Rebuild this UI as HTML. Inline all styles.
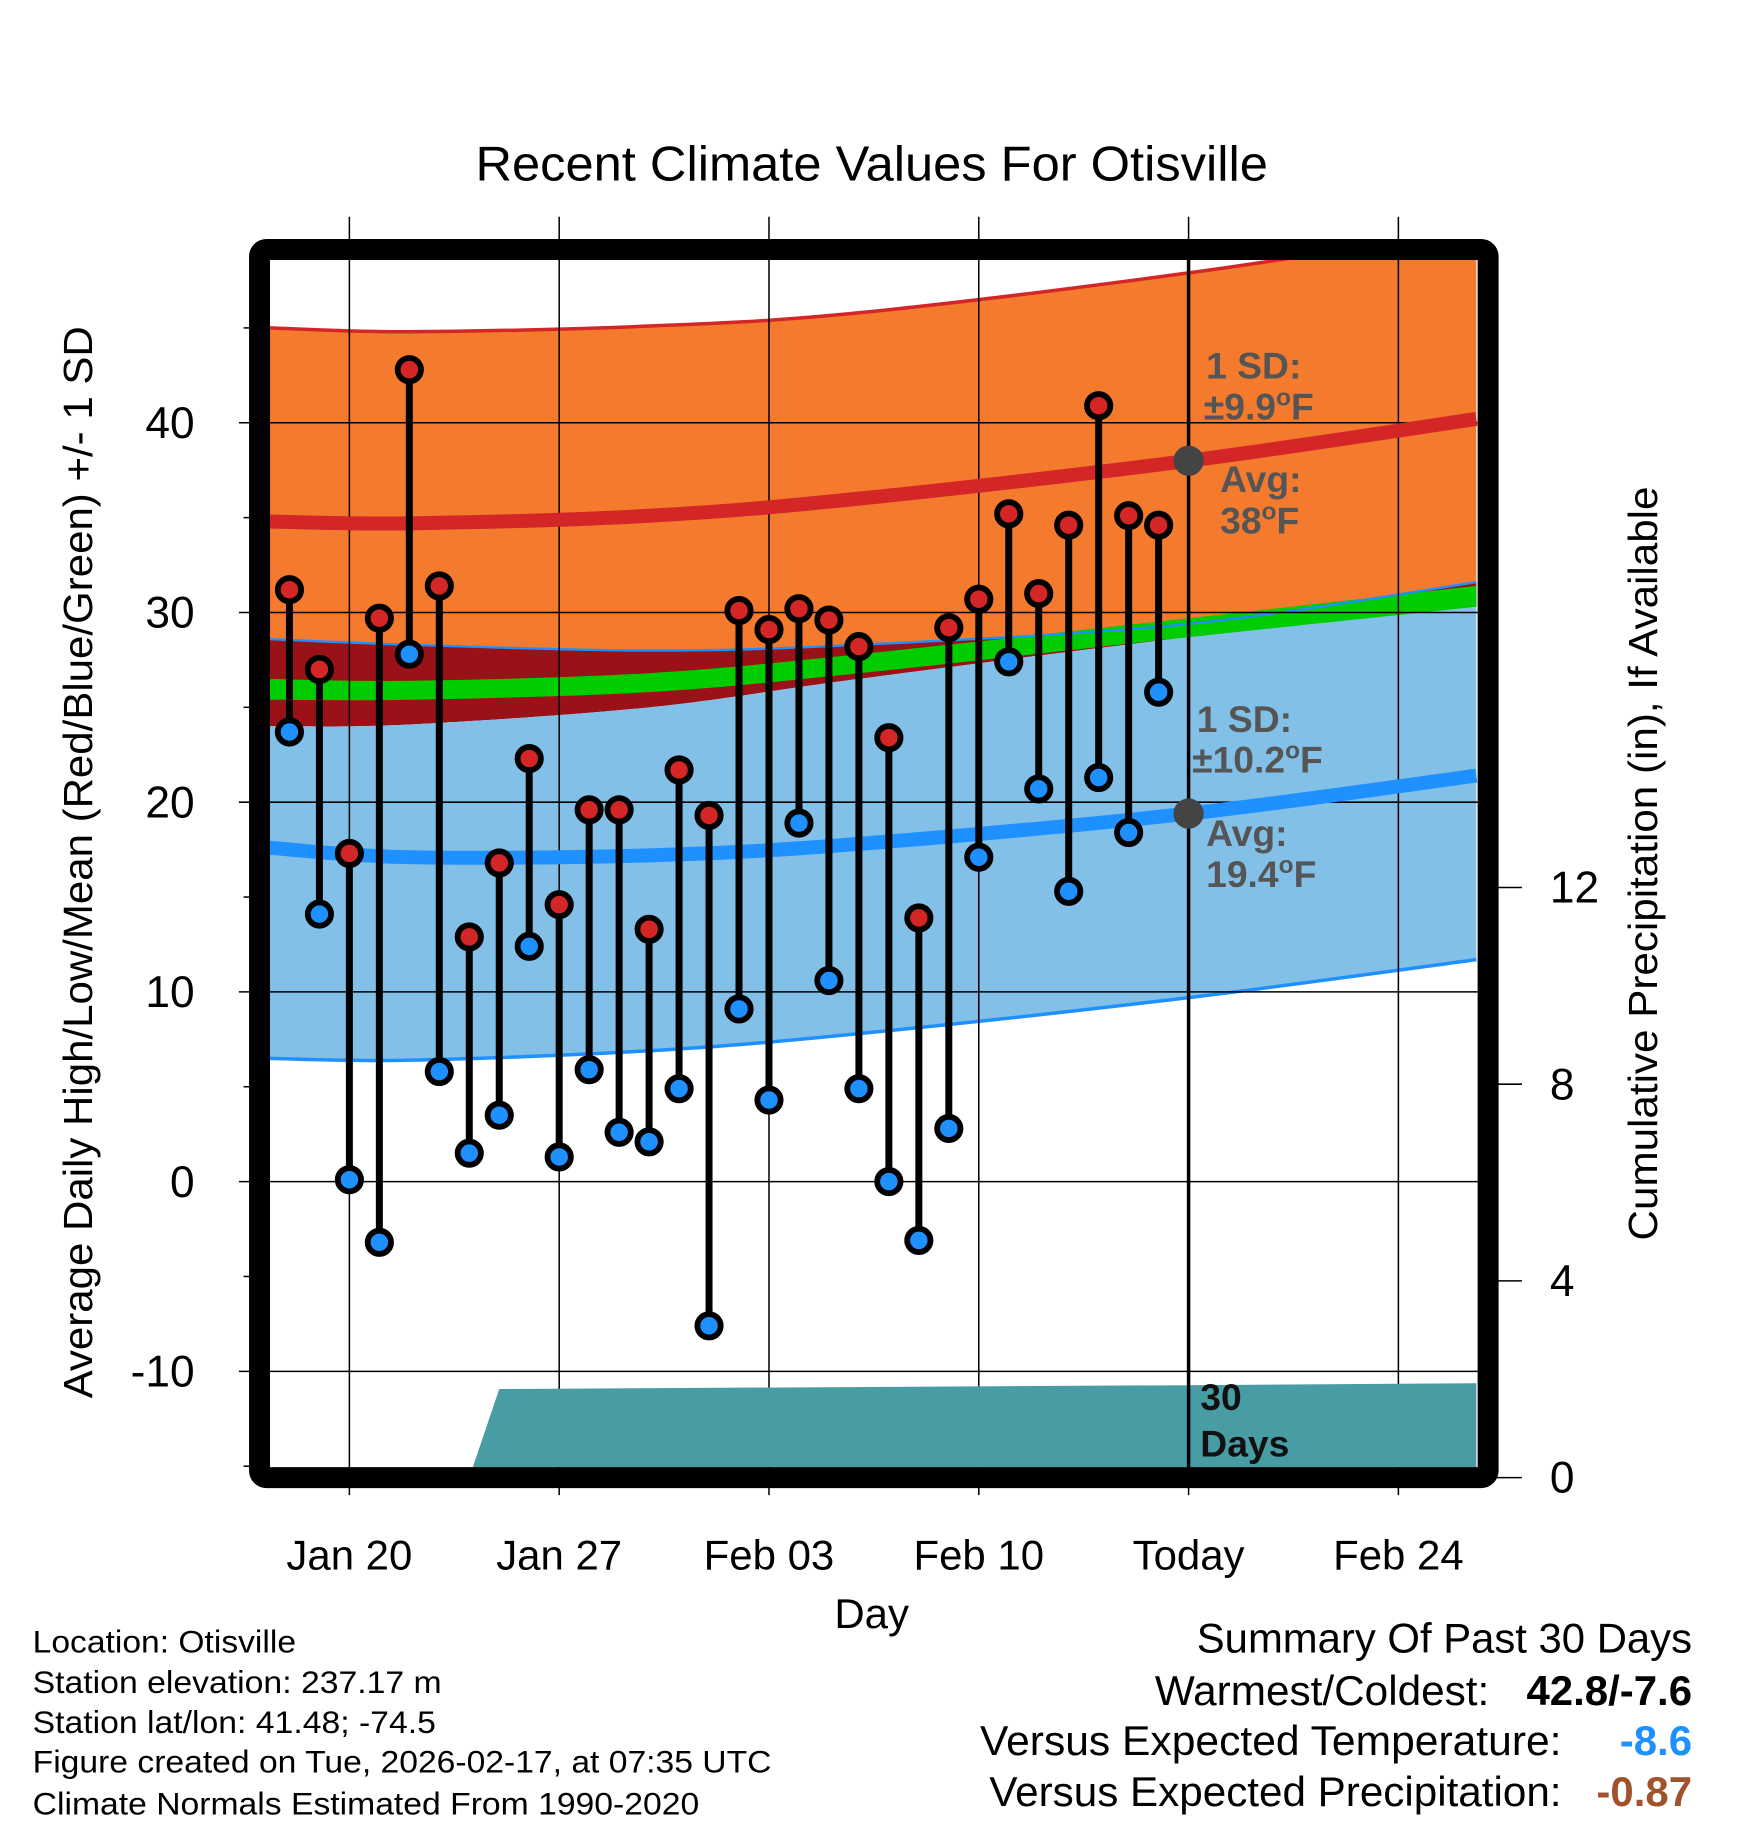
<!DOCTYPE html>
<html><head><meta charset="utf-8"><style>
html,body{margin:0;padding:0;background:#fff}
svg{display:block;font-family:"Liberation Sans",Arial,sans-serif}
</style></head><body>
<svg id="chart" width="1748" height="1828" viewBox="0 0 1500 1568.7" xmlns="http://www.w3.org/2000/svg">
<defs><clipPath id="plotclip"><rect x="231" y="223" width="1037" height="1036"/></clipPath></defs>
<text x="748" y="155" font-size="42" text-anchor="middle" textLength="680" lengthAdjust="spacingAndGlyphs">Recent Climate Values For Otisville</text>
<g id="fills" clip-path="url(#plotclip)"></g>
<g id="grid"></g>
<g id="lines" clip-path="url(#plotclip)"></g>
<g id="marks"></g>
<g id="annot" font-weight="bold" fill="#555" font-size="32">
<text x="1035" y="325">1 SD:</text>
<text x="1033" y="360">±9.9<tspan font-size="21" dy="-12">o</tspan><tspan dy="12">F</tspan></text>
<text x="1047" y="422">Avg:</text>
<text x="1047" y="458">38<tspan font-size="21" dy="-12">o</tspan><tspan dy="12">F</tspan></text>
<text x="1027" y="628">1 SD:</text>
<text x="1023" y="663">±10.2<tspan font-size="21" dy="-12">o</tspan><tspan dy="12">F</tspan></text>
<text x="1035" y="726">Avg:</text>
<text x="1035" y="761">19.4<tspan font-size="21" dy="-12">o</tspan><tspan dy="12">F</tspan></text>
<text x="1030" y="1210" fill="#111">30</text>
<text x="1030" y="1250" fill="#111">Days</text>
</g>
<rect x="222.7" y="214.1" width="1054.3" height="1053.9" rx="6" fill="none" stroke="#000" stroke-width="18"/>
<text x="748" y="1397" font-size="36" text-anchor="middle">Day</text>
<text transform="translate(79,740) rotate(-90)" font-size="35" text-anchor="middle" textLength="920" lengthAdjust="spacingAndGlyphs">Average Daily High/Low/Mean (Red/Blue/Green) +/- 1 SD</text>
<text transform="translate(1422,741) rotate(-90)" font-size="35" text-anchor="middle" textLength="647" lengthAdjust="spacingAndGlyphs">Cumulative Precipitation (in), If Available</text>
<g font-size="27">
<text x="28" y="1418" textLength="226" lengthAdjust="spacingAndGlyphs">Location: Otisville</text>
<text x="28" y="1453" textLength="351" lengthAdjust="spacingAndGlyphs">Station elevation: 237.17 m</text>
<text x="28" y="1487" textLength="346" lengthAdjust="spacingAndGlyphs">Station lat/lon: 41.48; -74.5</text>
<text x="28" y="1521" textLength="634" lengthAdjust="spacingAndGlyphs">Figure created on Tue, 2026-02-17, at 07:35 UTC</text>
<text x="28" y="1557" textLength="572" lengthAdjust="spacingAndGlyphs">Climate Normals Estimated From 1990-2020</text>
</g>
<g font-size="36" text-anchor="end">
<text x="1452" y="1418" textLength="425" lengthAdjust="spacingAndGlyphs">Summary Of Past 30 Days</text>
<text x="1278" y="1463" textLength="287" lengthAdjust="spacingAndGlyphs">Warmest/Coldest:</text>
<text x="1452" y="1463" font-weight="bold">42.8/-7.6</text>
<text x="1340" y="1506" textLength="499" lengthAdjust="spacingAndGlyphs">Versus Expected Temperature:</text>
<text x="1452" y="1506" font-weight="bold" fill="#1e90ff">-8.6</text>
<text x="1340" y="1550" textLength="491" lengthAdjust="spacingAndGlyphs">Versus Expected Precipitation:</text>
<text x="1452" y="1550" font-weight="bold" fill="#a0522d">-0.87</text>
</g>
</svg>
<script>
// data
const days = [-2,-1,0,1,2,3,4,5,6,7,8,9,10,11,12,13,14,15,16,17,18,19,20,21,22,23,24,25,26,27];
const highs = [31.2,27.0,17.3,29.7,42.8,31.4,12.9,16.8,22.3,14.6,19.6,19.6,13.3,21.7,19.3,30.1,29.1,30.2,29.6,28.2,23.4,13.9,29.2,30.7,35.2,31.0,34.6,40.9,35.1,34.6];
const lows = [23.7,14.1,0.1,-3.2,27.8,5.8,1.5,3.5,12.4,1.3,5.9,2.6,2.1,4.9,-7.6,9.1,4.3,18.9,10.6,4.9,0.0,-3.1,2.8,17.1,27.4,20.7,15.3,21.3,18.4,25.8];
const normalDays = [-2.7,2,10,17,28,37.6];
const upperSD = [45.0,44.8,45.1,45.8,47.9,50.2];
const highAvg = [34.8,34.7,35.1,36.0,38.0,40.2];
const orangeLow = [28.6,28.3,28.0,28.3,29.4,31.6];
const greenTop = [26.5,26.4,26.8,27.8,29.7,31.4];
const greenBot = [25.4,25.4,25.8,26.8,28.7,30.3];
const blueTop = [24.0,24.1,25.0,26.5,28.7,30.3];
const lowAvg = [17.6,17.1,17.2,17.8,19.4,21.4];
const blueBot = [6.5,6.4,6.9,7.8,9.7,11.7];
const precipDays = [4,5,28,37.6];
const precipVals = [0,1.8,1.88,1.92];
const yTicks = [-10,0,10,20,30,40];
const y2Ticks = [0,4,8,12];
const xTickDays = [0,7,14,21,28,35];
const xTickLabels = ["Jan 20","Jan 27","Feb 03","Feb 10","Today","Feb 24"];

const NS="http://www.w3.org/2000/svg";
const x = d => 299.8 + d*25.72;
const y = v => 1014 - v*16.28;
const y2 = p => 1268 - p*42.2;
function mk(parent, tag, attrs){const e=document.createElementNS(NS,tag);for(const k in attrs)e.setAttribute(k,attrs[k]);document.getElementById(parent).appendChild(e);return e;}
// smooth curve through knots (Catmull-Rom)
function smooth(arr){
  const P=normalDays.map((d,i)=>[x(d),y(arr[i])]);
  let s="M"+P[0][0].toFixed(1)+","+P[0][1].toFixed(1);
  for(let i=0;i<P.length-1;i++){
    const p0=P[Math.max(0,i-1)],p1=P[i],p2=P[i+1],p3=P[Math.min(P.length-1,i+2)];
    const c1=[p1[0]+(p2[0]-p0[0])/6,p1[1]+(p2[1]-p0[1])/6];
    const c2=[p2[0]-(p3[0]-p1[0])/6,p2[1]-(p3[1]-p1[1])/6];
    s+=" C"+c1.map(v=>v.toFixed(1))+" "+c2.map(v=>v.toFixed(1))+" "+p2.map(v=>v.toFixed(1));
  }
  return s;
}
function smoothRev(arr){
  const P=normalDays.map((d,i)=>[x(d),y(arr[i])]).reverse();
  let s=" L"+P[0][0].toFixed(1)+","+P[0][1].toFixed(1);
  for(let i=0;i<P.length-1;i++){
    const p0=P[Math.max(0,i-1)],p1=P[i],p2=P[i+1],p3=P[Math.min(P.length-1,i+2)];
    const c1=[p1[0]+(p2[0]-p0[0])/6,p1[1]+(p2[1]-p0[1])/6];
    const c2=[p2[0]-(p3[0]-p1[0])/6,p2[1]-(p3[1]-p1[1])/6];
    s+=" C"+c1.map(v=>v.toFixed(1))+" "+c2.map(v=>v.toFixed(1))+" "+p2.map(v=>v.toFixed(1));
  }
  return s;
}
function band(top,bot){return smooth(top)+smoothRev(bot)+"Z";}

let e;
e=mk("fills","path",{d:band(upperSD,orangeLow),fill:"#f47a2e"});


e=mk("fills","path",{d:band(orangeLow,blueTop),fill:"#9b1118"});


e=mk("fills","path",{d:band(blueTop,blueBot),fill:"#82c0e8"});


e=mk("fills","path",{d:band(greenTop,greenBot),fill:"#00cc00"});


e=mk("fills","path",{d:smooth(upperSD),fill:"none",stroke:"#d42626","stroke-width":3});


e=mk("fills","path",{d:smooth(orangeLow),fill:"none",stroke:"#1e90ff","stroke-width":2});


e=mk("fills","path",{d:smooth(blueBot),fill:"none",stroke:"#1e90ff","stroke-width":3});



// grid
yTicks.forEach(v=>{
  e=mk("grid","line",{x1:205,x2:1268,y1:y(v),y2:y(v),stroke:"#000","stroke-width":1.3});
  
  
  e=mk("grid","text",{x:167,y:y(v)+13,"font-size":38,"text-anchor":"end"});
  e.textContent=v;
  
  
});
for(let v=-15;v<=45;v+=5){ if(v%10===0) continue;
  e=mk("grid","line",{x1:209,x2:216,y1:y(v),y2:y(v),stroke:"#000","stroke-width":1.3});
  
  
}
y2Ticks.forEach(p=>{
  e=mk("grid","line",{x1:1284,x2:1306,y1:y2(p),y2:y2(p),stroke:"#000","stroke-width":1.3});
  
  
  e=mk("grid","text",{x:1330,y:y2(p)+13,"font-size":38});
  e.textContent=p;
  
  
});
xTickDays.forEach((d,i)=>{
  e=mk("grid","line",{x1:x(d),x2:x(d),y1:186,y2:1283,stroke:"#000","stroke-width":1.3});
  
  
  e=mk("grid","text",{x:x(d),y:1347,"font-size":36,"text-anchor":"middle"});
  e.textContent=xTickLabels[i];
  
  
});

// avg lines
e=mk("lines","path",{d:smooth(highAvg),fill:"none",stroke:"#d42626","stroke-width":12});


e=mk("lines","path",{d:smooth(lowAvg),fill:"none",stroke:"#1e90ff","stroke-width":12});


// precip
let pd="M"+x(precipDays[0])+","+y2(0);
precipDays.forEach((d,i)=>{pd+=" L"+x(d).toFixed(1)+","+y2(precipVals[i]).toFixed(1);});
pd+=" L"+x(precipDays[precipDays.length-1])+","+y2(0)+"Z";
e=mk("lines","path",{d:pd,fill:"#489ca4"});


// today line + avg dots
e=mk("lines","line",{x1:x(28),x2:x(28),y1:186,y2:1259,stroke:"#000","stroke-width":3});


e=mk("marks","circle",{cx:x(28),cy:y(38),r:13,fill:"#444"});


e=mk("marks","circle",{cx:x(28),cy:y(19.4),r:13,fill:"#444"});



// stems & markers
days.forEach((d,i)=>{
  e=mk("marks","line",{x1:x(d),x2:x(d),y1:y(highs[i]),y2:y(lows[i]),stroke:"#000","stroke-width":6});
  
  
});
days.forEach((d,i)=>{
  e=mk("marks","circle",{cx:x(d),cy:y(highs[i]),r:10,fill:"#d42626",stroke:"#000","stroke-width":5});
  
  
  e=mk("marks","circle",{cx:x(d),cy:y(lows[i]),r:10,fill:"#1e90ff",stroke:"#000","stroke-width":5});
  
  
});
</script>
</body></html>
